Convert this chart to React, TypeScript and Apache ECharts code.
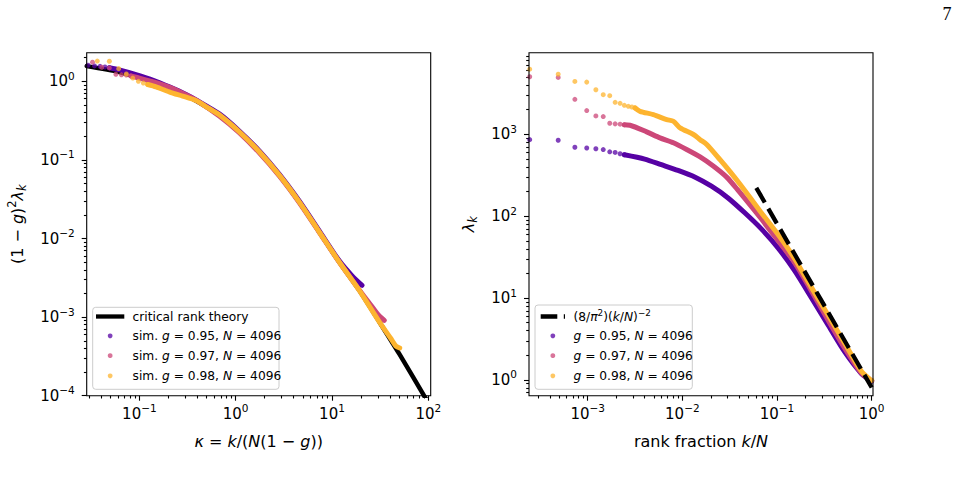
import React, { useEffect, useRef } from "react";
import * as echarts from "echarts";

const FONT = "DejaVu Sans";
const C095 = "#5601a4";
const C097 = "#cc4778";
const C098 = "#fdb42f";

// ---------- left panel: kappa vs (1-g)^2 lambda_k ----------
const leftTheory = [
  [0.0284, 1.56], [0.0618, 1.31], [0.137, 0.98], [0.305, 0.66], [0.676, 0.369],
  [1.09, 0.226], [1.76, 0.126], [2.84, 0.0637], [4.57, 0.0291], [7.38, 0.0121],
  [11.9, 0.00502], [19.2, 0.00219], [31, 0.00087], [50, 0.00034], [100, 0.000081],
];
const leftDots095 = [[0.0293, 1.6], [0.0342, 1.57], [0.039, 1.55], [0.0439, 1.52], [0.0488, 1.49]];
const leftBand095 = [
  [0.0488, 1.49], [0.0618, 1.4], [0.0922, 1.22], [0.137, 1.04], [0.2045, 0.85], [0.305, 0.68],
  [0.387, 0.58], [0.676, 0.385], [1.09, 0.233], [1.76, 0.13], [2.84, 0.0655], [4.57, 0.03],
  [7.38, 0.0125], [11.9, 0.0052], [16, 0.0034], [20.5, 0.00254],
];
const leftDots097 = [[0.0326, 1.75], [0.0407, 1.51], [0.0488, 1.48], [0.057, 1.23], [0.0651, 1.21], [0.0732, 1.2], [0.0814, 1.17]];
const leftBand097 = [
  [0.0814, 1.17], [0.1, 1.1], [0.137, 0.99], [0.2, 0.85], [0.3, 0.68], [0.4, 0.565], [0.676, 0.362],
  [1.09, 0.222], [1.76, 0.123], [2.84, 0.0625], [4.57, 0.0287], [7.38, 0.012], [11.9, 0.005],
  [19.2, 0.00222], [25, 0.00145], [30, 0.00108], [34.9, 0.00091],
];
const leftDots098 = [[0.0366, 1.81], [0.0488, 1.8], [0.061, 1.45], [0.0732, 1.24], [0.0854, 1.1], [0.0977, 1.0], [0.11, 0.95], [0.122, 0.91]];
const leftBand098 = [
  [0.122, 0.91], [0.149, 0.85], [0.213, 0.72], [0.281, 0.65], [0.387, 0.57], [0.5, 0.47], [0.676, 0.375],
  [1.09, 0.228], [1.76, 0.127], [2.84, 0.064], [4.57, 0.0292], [7.38, 0.0121], [11.9, 0.00502],
  [19.2, 0.00219], [31, 0.00087], [41, 0.00053], [46, 0.00043], [50.5, 0.000405],
];

// ---------- right panel: k/N vs lambda_k ----------
const rankFracDots = [2.44e-4, 4.88e-4, 7.32e-4, 9.77e-4, 1.22e-3, 1.46e-3, 1.71e-3, 1.95e-3, 2.2e-3, 2.44e-3, 2.69e-3, 2.93e-3, 3.17e-3];
const rightDots095 = [860, 845, 695, 680, 665, 650, 611, 600, 578, 562];
const rightDots097 = [5040, 4940, 2670, 1946, 1675, 1645, 1364, 1340, 1327, 1303];
const rightDots098 = [6237, 5420, 4418, 4335, 3500, 3046, 2960, 2454, 2387, 2258, 2195, 2153, 2093];
const rightBand095 = [
  [2.44e-3, 562], [0.004, 498], [0.006, 425], [0.009, 362], [0.0135, 301], [0.0203, 232], [0.0304, 167],
  [0.0456, 110], [0.0683, 70], [0.1025, 41], [0.154, 21.5], [0.23, 10.2], [0.346, 4.7], [0.519, 2.2],
  [0.777, 1.2], [0.953, 1.0], [1, 0.97],
];
const rightBand097 = [
  [2.44e-3, 1303], [0.0028, 1290], [0.0042, 1069], [0.0058, 903], [0.00804, 787], [0.0111, 653],
  [0.0154, 530], [0.0212, 410], [0.0294, 300], [0.0381, 212], [0.0661, 97], [0.0953, 56], [0.154, 27],
  [0.23, 12.3], [0.346, 5.4], [0.519, 2.45], [0.777, 1.22], [0.953, 1.01], [1, 0.98],
];
const rightBand098 = [
  [3.17e-3, 2093], [0.00357, 1909], [0.00494, 1738], [0.00684, 1511], [0.00804, 1442], [0.00946, 1196],
  [0.0131, 994], [0.0154, 860], [0.0181, 751], [0.025, 490], [0.0319, 350], [0.0407, 245], [0.0661, 116],
  [0.107, 56], [0.154, 30], [0.23, 13.6], [0.346, 6.2], [0.519, 2.8], [0.777, 1.28], [0.953, 1.02], [1, 0.99],
];
const rightTheory = [[0.0604, 222], [1, 0.81]];

// tick exponents
const leftXMajors = [-1, 0, 1, 2];
const leftYMajors = [-4, -3, -2, -1, 0];
const rightXMajors = [-3, -2, -1, 0];
const rightYMajors = [0, 1, 2, 3];

// axis extents (log10 units)
const LEFT_X = [-1.547, 2.025];
const LEFT_Y = [-4, 0.364];
const RIGHT_X = [-3.62, 0.014];
const RIGHT_Y = [-0.192, 3.996];

const lg = (d: number[][]) => d.map(([x, y]) => [Math.log10(x), Math.log10(y)]);
const pair = (xs: number[], ys: number[]) => ys.map((y, i) => [xs[i], y]);

function minors(lo: number, hi: number) {
  const out: number[] = [];
  for (let n = Math.floor(lo); n <= Math.ceil(hi); n++) {
    for (let m = 2; m <= 9; m++) {
      const v = n + Math.log10(m);
      if (v >= lo && v <= hi) out.push(v);
    }
  }
  return out;
}

const supRich = {
  b: { fontFamily: FONT, fontSize: 15, color: "#000" },
  s: { fontFamily: FONT, fontSize: 10.5, color: "#000", padding: [0, 0, 11, 0] },
};
const fmtPow = (v: number) => {
  const e = Math.round(v);
  return `{b|10}{s|${e < 0 ? "\u2212" + -e : e}}`;
};
const nameRich = {
  n: { fontFamily: FONT, fontSize: 16, color: "#000" },
  i: { fontFamily: FONT, fontSize: 16, fontStyle: "italic", color: "#000" },
  sup: { fontFamily: FONT, fontSize: 11.5, color: "#000", padding: [0, 0, 11, 0] },
  sub: { fontFamily: FONT, fontSize: 11.5, fontStyle: "italic", color: "#000", padding: [9, 0, 0, 0] },
};
const tickLine = { color: "#000", width: 1.1 };

function axisPair(dim: "x" | "y", grid: number, ext: number[], majors: number[], name: string, nameGap: number) {
  const common = {
    type: "value",
    gridIndex: grid,
    min: ext[0],
    max: ext[1],
    position: dim === "x" ? "bottom" : "left",
    axisLine: { show: false, onZero: false },
    splitLine: { show: false },
  };
  return [
    {
      ...common,
      name,
      nameLocation: "middle",
      nameGap,
      nameRotate: dim === "y" ? 90 : 0,
      nameTextStyle: { fontFamily: FONT, fontSize: 16, color: "#000", rich: nameRich },
      axisTick: { show: true, customValues: majors, length: 5, lineStyle: tickLine },
      axisLabel: {
        show: true,
        customValues: majors,
        margin: dim === "x" ? 7 : 12,
        formatter: fmtPow,
        rich: supRich,
      },
    },
    {
      ...common,
      axisLabel: { show: false },
      axisTick: { show: true, customValues: minors(ext[0], ext[1]), length: 2.8, lineStyle: tickLine },
    },
  ];
}

const legRich = {
  n: { fontFamily: FONT, fontSize: 12.25, color: "#000" },
  i: { fontFamily: FONT, fontSize: 12.25, fontStyle: "italic", color: "#000" },
  sup: { fontFamily: FONT, fontSize: 8.8, color: "#000", padding: [0, 0, 8, 0] },
};

function legend(box: number[], handleX: number[], dashed: boolean, textX: number, labels: string[]) {
  const rows = [316.5, 335.8, 355.7, 375.8];
  const cols = [C095, C097, C098];
  const dotX = (handleX[0] + handleX[1]) / 2;
  const els: any[] = [
    {
      type: "rect",
      shape: { x: box[0], y: box[1], width: box[2], height: box[3], r: 3 },
      style: { fill: "rgba(255,255,255,0.8)", stroke: "#cccccc", lineWidth: 1 },
      z: 100,
    },
    {
      type: "line",
      shape: { x1: handleX[0], y1: rows[0], x2: handleX[1], y2: rows[0] },
      style: { stroke: "#000", lineWidth: 4.3, lineDash: dashed ? [16.6, 6.5] : null },
      z: 101,
    },
  ];
  cols.forEach((c, i) => {
    els.push({
      type: "circle",
      shape: { cx: dotX, cy: rows[i + 1], r: 2.4 },
      style: { fill: c, opacity: 0.75 },
      z: 101,
    });
  });
  labels.forEach((t, i) => {
    els.push({
      type: "text",
      x: textX,
      y: rows[i],
      style: { text: t, rich: legRich, fontFamily: FONT, fontSize: 12.25, fill: "#000", verticalAlign: "middle", align: "left" },
      z: 101,
    });
  });
  return els;
}

function dots(data: number[][], color: string, xi: number, z: number) {
  return {
    type: "scatter",
    xAxisIndex: xi,
    yAxisIndex: xi,
    data: lg(data),
    symbolSize: 5,
    itemStyle: { color, opacity: 0.75 },
    z,
    silent: true,
  };
}
function band(data: number[][], color: string, xi: number, z: number, width = 5) {
  return {
    type: "line",
    xAxisIndex: xi,
    yAxisIndex: xi,
    data: lg(data),
    showSymbol: false,
    smooth: 0.25,
    lineStyle: { color, width, cap: "round", join: "round" },
    z,
    silent: true,
  };
}

export default function App() {
  const ref = useRef<HTMLDivElement>(null);
  useEffect(() => {
    document.body.style.margin = "0";
    const chart = echarts.init(ref.current!, undefined, { renderer: "svg" });
    const option: any = {
      animation: false,
      backgroundColor: "#fff",
      grid: [
        { left: 86.7, top: 52.7, width: 344, height: 343, show: true, borderColor: "#000", borderWidth: 1.1, backgroundColor: "transparent", z: 10 },
        { left: 529, top: 52.7, width: 344, height: 343, show: true, borderColor: "#000", borderWidth: 1.1, backgroundColor: "transparent", z: 10 },
      ],
      xAxis: [
        ...axisPair("x", 0, LEFT_X, leftXMajors, "{i|κ}{n| = }{i|k}{n|/(}{i|N}{n|(1 − }{i|g}{n|))}", 38),
        ...axisPair("x", 1, RIGHT_X, rightXMajors, "{n|rank fraction }{i|k}{n|/}{i|N}", 38),
      ],
      yAxis: [
        ...axisPair("y", 0, LEFT_Y, leftYMajors, "{n|(1 − }{i|g}{n|)}{sup|2}{i|λ}{sub|k}", 58),
        ...axisPair("y", 1, RIGHT_Y, rightYMajors, "{i|λ}{sub|k}", 50),
      ],
      series: [
        band(leftTheory, "#000", 0, 2, 4.5),
        dots(leftDots095, C095, 0, 3),
        band(leftBand095, C095, 0, 3),
        dots(leftDots097, C097, 0, 4),
        band(leftBand097, C097, 0, 4),
        dots(leftDots098, C098, 0, 5),
        band(leftBand098, C098, 0, 5),
        dots(pair(rankFracDots, rightDots095), C095, 2, 3),
        band(rightBand095, C095, 2, 3),
        dots(pair(rankFracDots, rightDots097), C097, 2, 4),
        band(rightBand097, C097, 2, 4),
        dots(pair(rankFracDots, rightDots098), C098, 2, 5),
        band(rightBand098, C098, 2, 5),
        {
          type: "line",
          xAxisIndex: 2,
          yAxisIndex: 2,
          data: lg(rightTheory),
          showSymbol: false,
          lineStyle: { color: "#000", width: 4.3, type: [17, 7] },
          z: 6,
          silent: true,
        },
      ],
      graphic: [
        ...legend([92.7, 307.3, 186.3, 82], [96, 124.3], false, 132.5, [
          "{n|critical rank theory}",
          "{n|sim. }{i|g}{n| = 0.95, }{i|N}{n| = 4096}",
          "{n|sim. }{i|g}{n| = 0.97, }{i|N}{n| = 4096}",
          "{n|sim. }{i|g}{n| = 0.98, }{i|N}{n| = 4096}",
        ]),
        ...legend([535, 305, 157.3, 84.3], [540.7, 565], true, 573.5, [
          "{n|(8/}{i|π}{sup|2}{n|)(}{i|k}{n|/}{i|N}{n|)}{sup|−2}",
          "{i|g}{n| = 0.95, }{i|N}{n| = 4096}",
          "{i|g}{n| = 0.97, }{i|N}{n| = 4096}",
          "{i|g}{n| = 0.98, }{i|N}{n| = 4096}",
        ]),
        {
          type: "text",
          x: 947,
          y: 13.5,
          style: { text: "7", fontFamily: "Liberation Serif", fontSize: 18, fill: "#000", align: "center", verticalAlign: "middle" },
        },
      ],
    };
    chart.setOption(option);
    return () => chart.dispose();
  }, []);
  return <div ref={ref} style={{ width: 961, height: 482, position: "absolute", left: 0, top: 0 }} />;
}
